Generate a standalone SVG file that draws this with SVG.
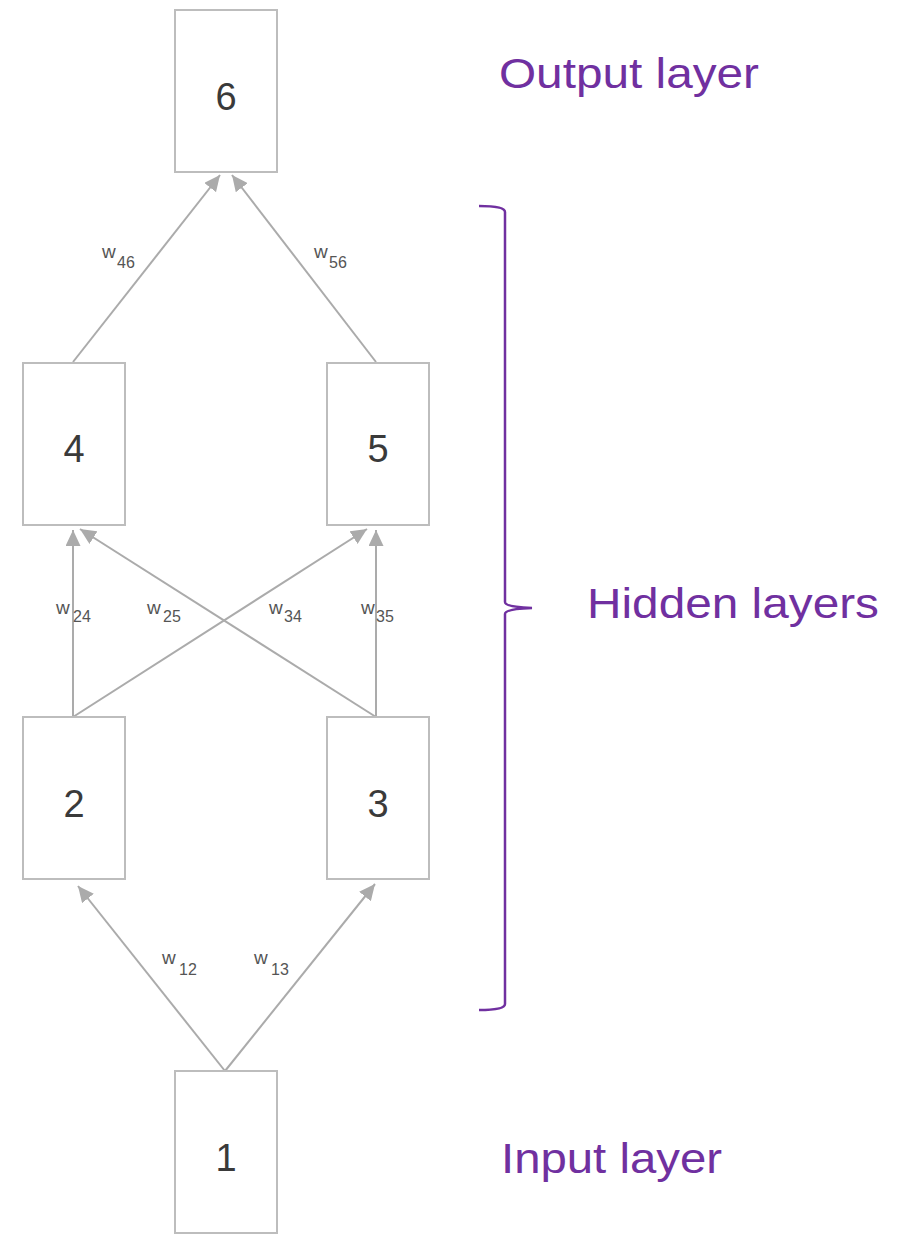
<svg xmlns="http://www.w3.org/2000/svg" width="897" height="1234" viewBox="0 0 897 1234">
<style>
.box{fill:#fff;stroke:#bdbdbd;stroke-width:2}
.num{font-family:"Liberation Sans",Arial,sans-serif;font-size:38px;fill:#3a3a3a;text-anchor:middle}
.edge{stroke:#ababab;stroke-width:2;fill:none}
.w{font-family:"Liberation Sans",Arial,sans-serif;font-size:19px;fill:#555}
.sub{font-size:16px}
.lab{font-family:"Liberation Sans",Arial,sans-serif;font-size:42px;fill:#7030a0}
.brace{stroke:#7030a0;stroke-width:2.5;fill:none}
</style>
<defs>
<marker id="arr" markerUnits="userSpaceOnUse" markerWidth="17" markerHeight="15" refX="16" refY="7.5" orient="auto">
<path d="M0,0 L16,7.5 L0,15 z" fill="#ababab"/>
</marker>
</defs>
<rect width="897" height="1234" fill="#fff"/>
<g id="connectors">
<line class="edge" x1="225" y1="1071" x2="78" y2="886" marker-end="url(#arr)"/>
<line class="edge" x1="225" y1="1071" x2="375" y2="884" marker-end="url(#arr)"/>
<line class="edge" x1="73" y1="717" x2="73" y2="530" marker-end="url(#arr)"/>
<line class="edge" x1="73" y1="717" x2="367" y2="529" marker-end="url(#arr)"/>
<line class="edge" x1="376" y1="717" x2="80" y2="529" marker-end="url(#arr)"/>
<line class="edge" x1="376" y1="717" x2="376" y2="530" marker-end="url(#arr)"/>
<line class="edge" x1="73" y1="362" x2="220" y2="175" marker-end="url(#arr)"/>
<line class="edge" x1="376" y1="362" x2="232" y2="175" marker-end="url(#arr)"/>
</g>
<g id="weights">
<text class="w" x="102" y="258">w<tspan class="sub" x="117" y="268">46</tspan></text>
<text class="w" x="314" y="258">w<tspan class="sub" x="329" y="268">56</tspan></text>
<text class="w" x="56" y="614">w<tspan class="sub" x="73" y="622">24</tspan></text>
<text class="w" x="147" y="614">w<tspan class="sub" x="163" y="622">25</tspan></text>
<text class="w" x="269" y="614">w<tspan class="sub" x="284" y="622">34</tspan></text>
<text class="w" x="361" y="614">w<tspan class="sub" x="376" y="622">35</tspan></text>
<text class="w" x="162" y="964">w<tspan class="sub" x="179" y="975">12</tspan></text>
<text class="w" x="254" y="964">w<tspan class="sub" x="271" y="975">13</tspan></text>
</g>
<g id="node6"><rect class="box" x="175" y="10" width="102" height="162"/><text class="num" x="226" y="110">6</text></g>
<g id="node4"><rect class="box" x="23" y="363" width="102" height="162"/><text class="num" x="74" y="462">4</text></g>
<g id="node5"><rect class="box" x="327" y="363" width="102" height="162"/><text class="num" x="378" y="462">5</text></g>
<g id="node2"><rect class="box" x="23" y="717" width="102" height="162"/><text class="num" x="74" y="817">2</text></g>
<g id="node3"><rect class="box" x="327" y="717" width="102" height="162"/><text class="num" x="378" y="817">3</text></g>
<g id="node1"><rect class="box" x="175" y="1071" width="102" height="162"/><text class="num" x="226" y="1171">1</text></g>
<g id="labels">
<text class="lab" x="499" y="88" textLength="260" lengthAdjust="spacingAndGlyphs">Output layer</text>
<text class="lab" x="587" y="618" textLength="292" lengthAdjust="spacingAndGlyphs">Hidden layers</text>
<text class="lab" x="501" y="1173" textLength="221" lengthAdjust="spacingAndGlyphs">Input layer</text>
</g>
<g id="brace">
<path class="brace" d="M479,206 Q505,206 505,212 L505,602 Q505,607 532,608 Q505,609 505,614 L505,1004 Q505,1010 479,1010"/>
</g>
</svg>
